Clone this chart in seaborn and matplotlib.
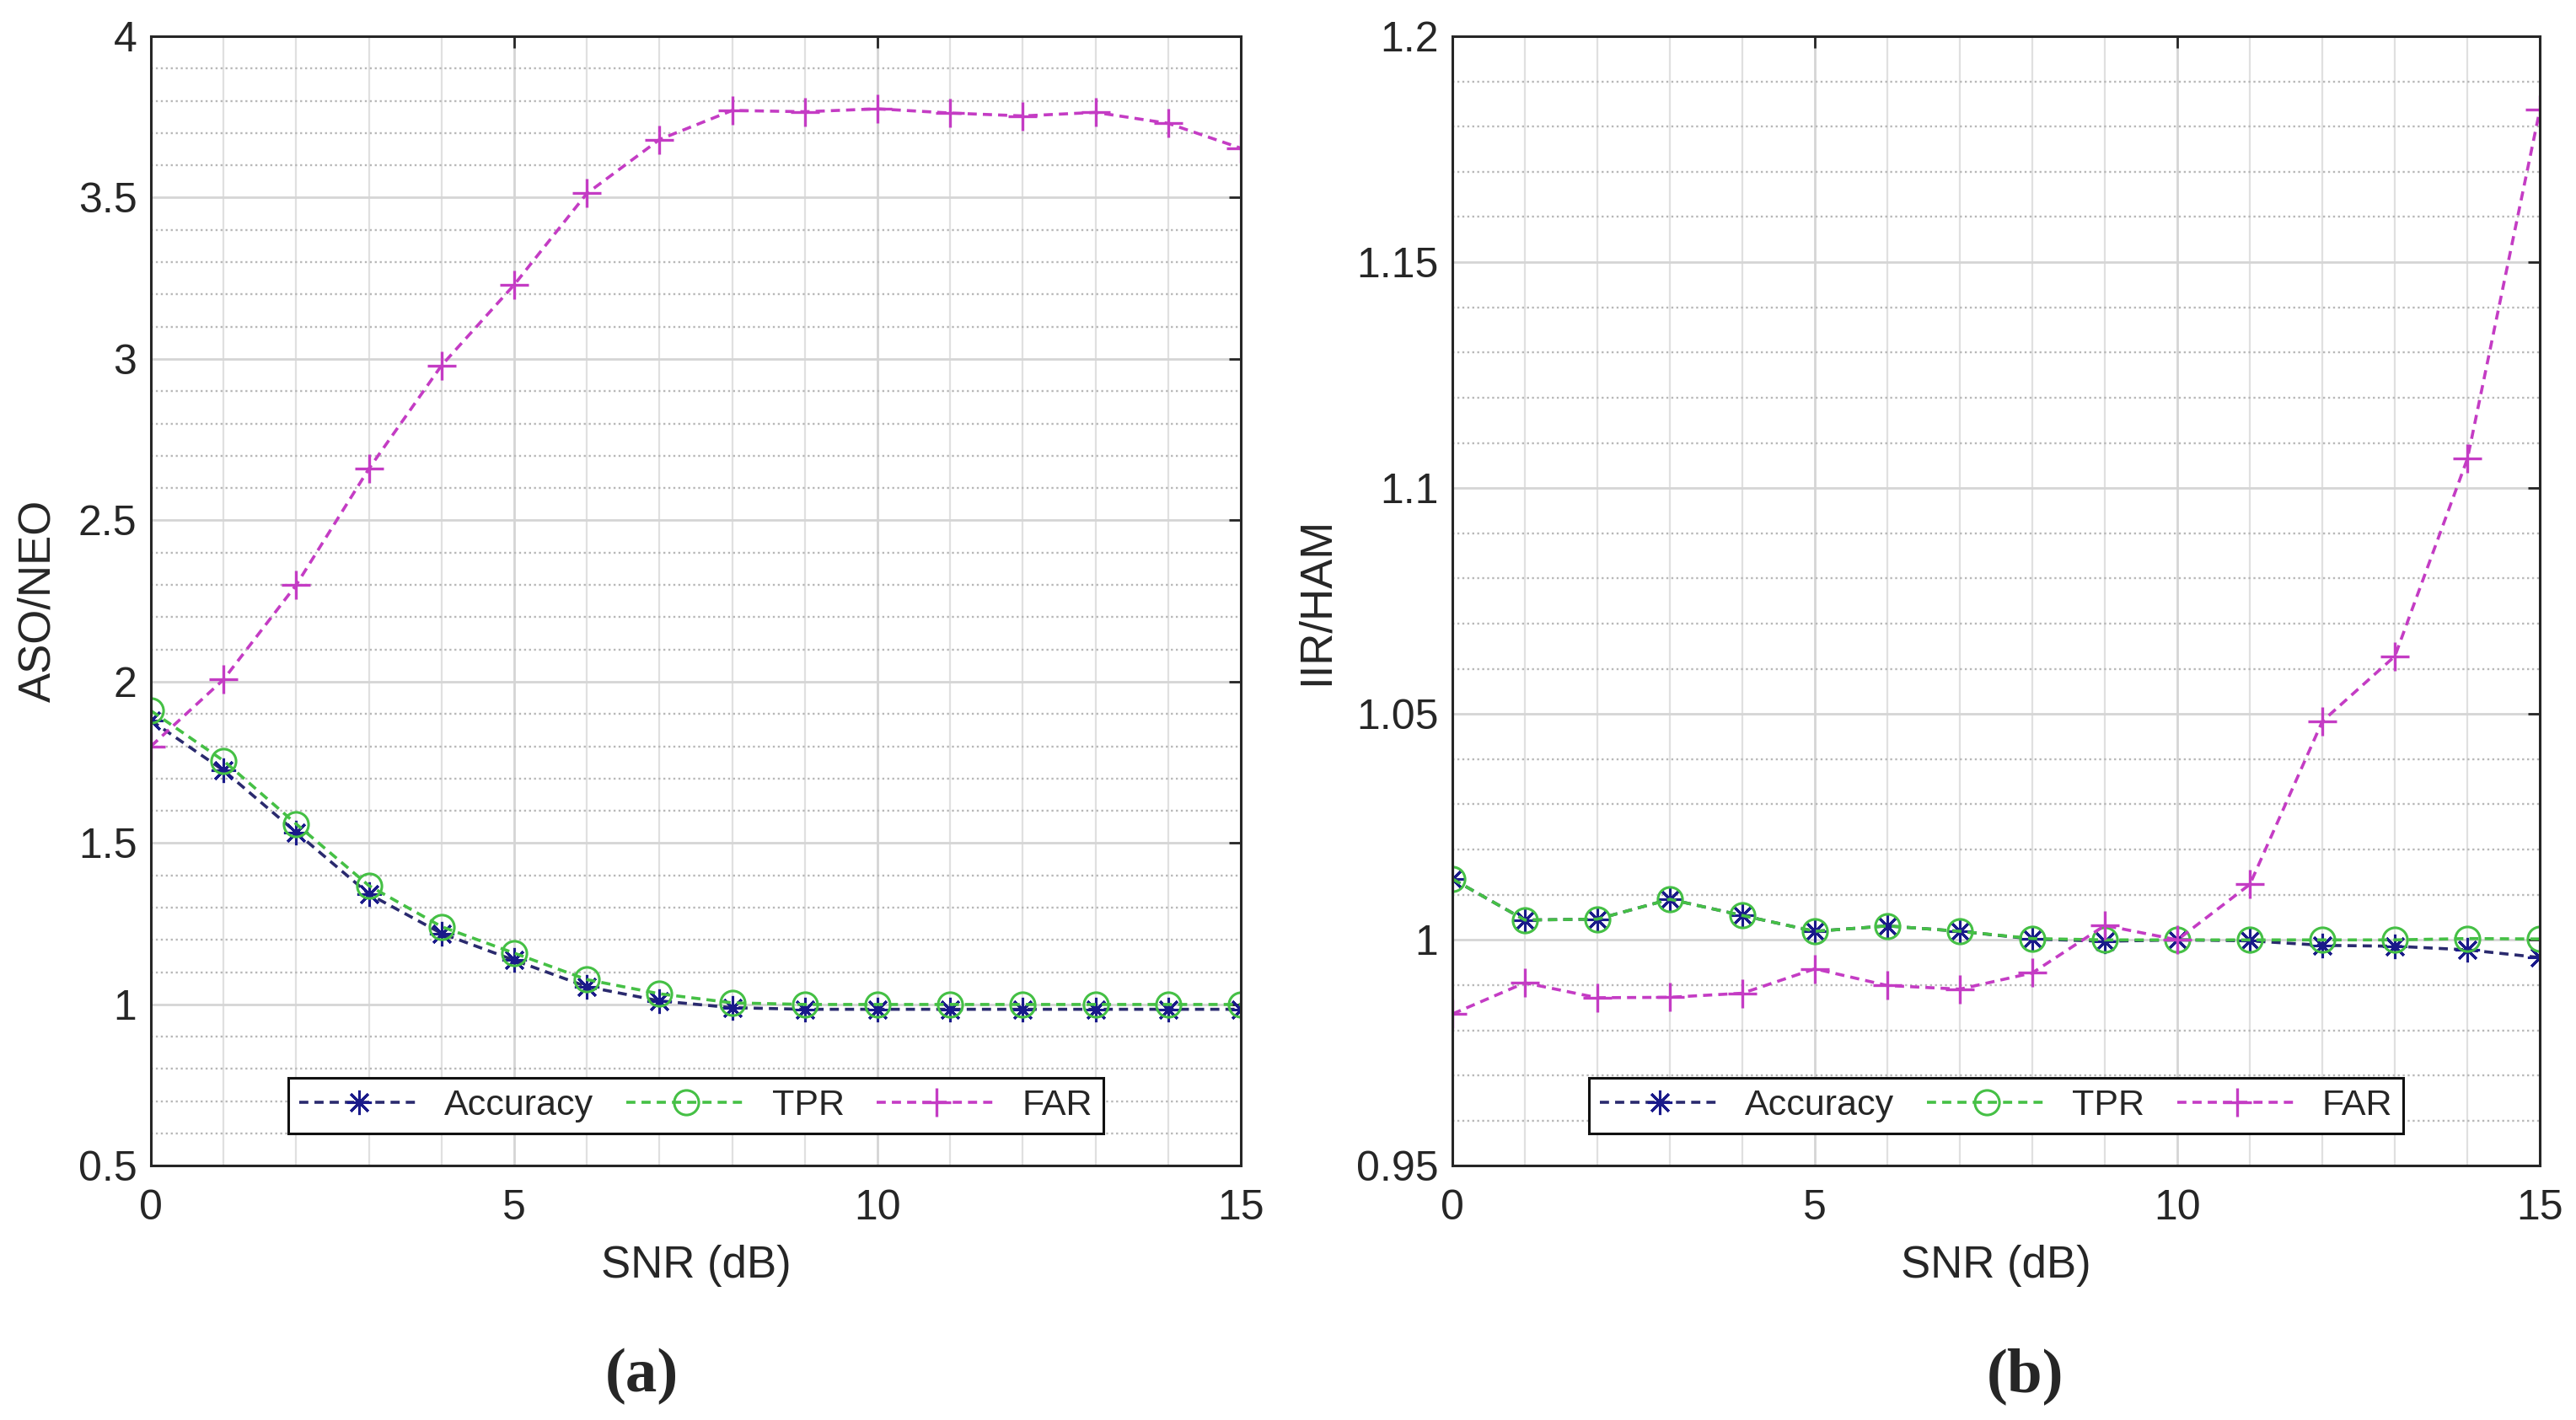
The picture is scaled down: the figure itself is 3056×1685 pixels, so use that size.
import numpy as np
import pandas as pd
import matplotlib
matplotlib.use("Agg")
import matplotlib.pyplot as plt
import seaborn as sns
from matplotlib.ticker import MultipleLocator, FuncFormatter

# ---------------------------------------------------------
# data
# ---------------------------------------------------------
snr = list(range(16))

# (a) ASO/NEO
acc_a = [1.88, 1.725, 1.533, 1.342, 1.22, 1.137, 1.055, 1.011, 0.99, 0.985,
         0.985, 0.985, 0.985, 0.985, 0.985, 0.985]
tpr_a = [1.91, 1.755, 1.559, 1.368, 1.241, 1.159, 1.077, 1.033, 1.005, 1.0,
         1.0, 1.0, 1.0, 1.0, 1.0, 1.0]
far_a = [1.80, 2.007, 2.30, 2.66, 2.98, 3.23, 3.513, 3.68, 3.77, 3.766,
         3.775, 3.762, 3.753, 3.764, 3.73, 3.653]

# (b) IIR/HAM
acc_b = [1.0135, 1.0044, 1.0046, 1.009, 1.0054, 1.0019, 1.0031, 1.0019, 1.0002, 0.9997,
         1.0, 0.9998, 0.9988, 0.9986, 0.9978, 0.9961]
tpr_b = [1.0135, 1.0044, 1.0046, 1.009, 1.0054, 1.0019, 1.0031, 1.0019, 1.0003, 1.0,
         1.0, 1.0, 1.0, 1.0, 1.0003, 1.0002]
far_b = [0.9836, 0.9905, 0.9872, 0.9873, 0.9882, 0.9936, 0.9899, 0.9891, 0.9927, 1.0032,
         1.0, 1.0123, 1.0484, 1.0628, 1.1065, 1.1838]

series_names = ["Accuracy", "TPR", "FAR"]
panel_labels = ["(a)", "(b)"]
y_labels = ["ASO/NEO", "IIR/HAM"]

# ---------------------------------------------------------
# style
# ---------------------------------------------------------
sns.set_style("white")
plt.rcParams["font.family"] = ["Liberation Sans", "DejaVu Sans"]

ACC_C = "#2a2a6e"
TPR_C = "#45c045"
FAR_C = "#c43cc4"

styles = {
    "Accuracy": dict(color=ACC_C, marker=(8, 2, 0), markersize=21, markeredgewidth=2.2,
                     markeredgecolor="#1a1a8a"),
    "TPR": dict(color=TPR_C, marker="o", markersize=21, markeredgewidth=2.2,
                markerfacecolor="none", markeredgecolor=TPR_C),
    "FAR": dict(color=FAR_C, marker="+", markersize=25, markeredgewidth=2.4,
                markeredgecolor=FAR_C),
}

fig = plt.figure(figsize=(30.56, 16.85), dpi=100)
ax_a = fig.add_axes([0.0586, 0.179, 0.4231, 0.7955])
ax_b = fig.add_axes([0.5638, 0.179, 0.4222, 0.7955])

panels = [
    (ax_a, {"Accuracy": acc_a, "TPR": tpr_a, "FAR": far_a}, (0.5, 4.0), 0.5, 0.1),
    (ax_b, {"Accuracy": acc_b, "TPR": tpr_b, "FAR": far_b}, (0.95, 1.2), 0.05, 0.01),
]

fmt = FuncFormatter(lambda v, p: "%g" % round(v, 4))

for i, (ax, vals, ylim, ymaj, ymin) in enumerate(panels):
    df = pd.DataFrame({"snr": snr, **vals})
    for name in series_names:
        sns.lineplot(data=df, x="snr", y=name, ax=ax, label=name,
                     linestyle=(0, (3, 2)), linewidth=2.6, **styles[name])

    ax.set_xlim(0, 15)
    ax.set_ylim(*ylim)
    ax.xaxis.set_major_locator(MultipleLocator(5))
    ax.xaxis.set_minor_locator(MultipleLocator(1))
    ax.yaxis.set_major_locator(MultipleLocator(ymaj))
    ax.yaxis.set_minor_locator(MultipleLocator(ymin))
    ax.xaxis.set_major_formatter(fmt)
    ax.yaxis.set_major_formatter(fmt)

    ax.set_axisbelow(True)
    ax.grid(which="major", axis="both", color="#d5d5d5", linewidth=2.0, linestyle="-")
    ax.grid(which="minor", axis="x", color="#e0e0e0", linewidth=1.6, linestyle="-")
    ax.grid(which="minor", axis="y", color="#b8b8b8", linewidth=1.7, linestyle=(0, (1, 1.5)))

    ax.tick_params(which="major", direction="in", length=10, width=2.0,
                   top=True, right=True, labelsize=36, colors="#262626")
    ax.tick_params(axis="x", which="major", pad=20)
    ax.tick_params(axis="y", which="major", pad=12)
    ax.tick_params(which="minor", length=0, top=True, right=True)
    for sp in ax.spines.values():
        sp.set_color("#262626")
        sp.set_linewidth(2.2)

    ax.set_xlabel("SNR (dB)", fontsize=38, color="#262626", labelpad=14)
    ax.set_ylabel(y_labels[i], fontsize=38, color="#262626", labelpad=16)

    leg = ax.legend(loc="lower center", bbox_to_anchor=(0.5, 0.029), borderaxespad=0,
                    ncol=3, fontsize=31, frameon=True, fancybox=False,
                    handlelength=3.3, handletextpad=0.7, columnspacing=0.9,
                    borderpad=0.3)
    leg.get_frame().set_edgecolor("#111111")
    leg.get_frame().set_linewidth(2.2)
    leg.get_frame().set_alpha(1)

fig.text(0.249, 0.031, panel_labels[0], ha="center", va="center",
         fontsize=54, fontweight="bold", family=["Liberation Serif", "DejaVu Serif"])
fig.text(0.786, 0.031, panel_labels[1], ha="center", va="center",
         fontsize=54, fontweight="bold", family=["Liberation Serif", "DejaVu Serif"])

fig.savefig("out.png", dpi=100, facecolor="white")
